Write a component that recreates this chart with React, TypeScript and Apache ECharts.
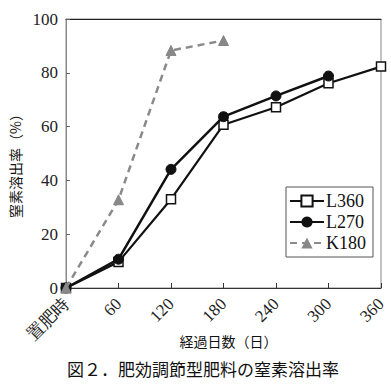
import React, { useEffect, useRef } from "react";
import * as echarts from "echarts";

const days = [0, 60, 120, 180, 240, 300, 360];
const xTickLabels = ["置肥時", "60", "120", "180", "240", "300", "360"];
const yTicks = [0, 20, 40, 60, 80, 100];
const l360 = [0, 9.7, 33.0, 60.7, 67.2, 76.1, 82.3];
const l270 = [0, 10.7, 44.1, 63.7, 71.4, 78.8];
const k180 = [0, 32.8, 88.3, 92.0];
const seriesNames = ["L360", "L270", "K180"];

const serif = "'Liberation Serif', 'DejaVu Serif', serif";
const sans = "'Noto Sans CJK JP', 'Noto Sans', sans-serif";

export default function App() {
  const ref = useRef<HTMLDivElement>(null);
  useEffect(() => {
    if (!ref.current) return;
    const chart = echarts.init(ref.current, null, { renderer: "svg" });
    const pair = (vals: number[]) => vals.map((v, i) => [days[i], v]);
    chart.setOption({
      animation: false,
      backgroundColor: "#ffffff",
      title: {
        text: "図２．肥効調節型肥料の窒素溶出率",
        left: 198,
        textAlign: "center",
        top: 355,
        textStyle: { fontFamily: sans, fontSize: 17, fontWeight: "normal", color: "#111" },
      },
      legend: {
        orient: "vertical",
        left: 286,
        top: 187,
        padding: [5, 7, 5, 3],
        itemGap: 3,
        itemWidth: 34,
        itemHeight: 14,
        borderColor: "#555",
        borderWidth: 1,
        data: seriesNames,
        textStyle: { fontFamily: serif, fontSize: 18, color: "#111", padding: [0, 0, 0, -3] },
      },
      grid: {
        left: 66,
        right: 10,
        top: 19,
        bottom: 104,
        show: true,
        borderColor: "#888",
        borderWidth: 1,
      },
      xAxis: [
        {
          type: "value",
          min: 0,
          max: 360,
          interval: 60,
          name: "経過日数（日）",
          nameLocation: "middle",
          nameGap: 46,
          nameMoveOverlap: false,
          nameTextStyle: { fontFamily: sans, fontSize: 14, color: "#111", padding: [0, 0, 0, 10] },
          axisLine: { lineStyle: { color: "#333", width: 1 } },
          axisTick: { inside: true, length: 5, lineStyle: { color: "#333" } },
          splitLine: { show: false },
          axisLabel: {
            rotate: 45,
            margin: 13,
            fontFamily: serif,
            fontSize: 17,
            color: "#222",
            formatter: (v: number) => xTickLabels[days.indexOf(v)] ?? String(v),
          },
        },
        {
          type: "value",
          position: "top",
          min: 0,
          max: 360,
          axisLine: { show: true, lineStyle: { color: "#222", width: 1 } },
          axisTick: { show: false },
          axisLabel: { show: false },
          splitLine: { show: false },
        },
      ],
      yAxis: {
        type: "value",
        min: 0,
        max: 100,
        interval: 20,
        name: "窒素溶出率（%）",
        nameLocation: "middle",
        nameGap: 44,
        nameMoveOverlap: false,
        nameTextStyle: { fontFamily: sans, fontSize: 14, color: "#111", padding: [0, 18, 0, 0] },
        axisLine: { show: true, lineStyle: { color: "#888", width: 1 } },
        axisTick: { show: true, inside: true, length: 4, lineStyle: { color: "#666" } },
        splitLine: { show: false },
        axisLabel: {
          fontFamily: serif,
          fontSize: 17,
          color: "#222",
          margin: 8,
          formatter: (v: number) => (yTicks.includes(v) ? String(v) : ""),
        },
      },
      series: [
        {
          name: seriesNames[0],
          type: "line",
          data: pair(l360),
          symbol: "rect",
          symbolSize: 9,
          itemStyle: { color: "#fff", borderColor: "#111", borderWidth: 1.5 },
          lineStyle: { color: "#111", width: 2.2 },
          z: 3,
        },
        {
          name: seriesNames[1],
          type: "line",
          data: pair(l270),
          symbol: "circle",
          symbolSize: 10,
          itemStyle: { color: "#111", borderColor: "#111" },
          lineStyle: { color: "#111", width: 2.5 },
          z: 4,
        },
        {
          name: seriesNames[2],
          type: "line",
          data: pair(k180),
          symbol: "triangle",
          symbolSize: 10,
          itemStyle: { color: "#888", borderColor: "#888" },
          lineStyle: { color: "#8a8a8a", width: 2.5, type: [7, 5] },
          z: 5,
        },
      ],
    });
    return () => chart.dispose();
  }, []);
  return <div ref={ref} style={{ width: 391, height: 392, position: "absolute", left: 0, top: 0 }} />;
}
